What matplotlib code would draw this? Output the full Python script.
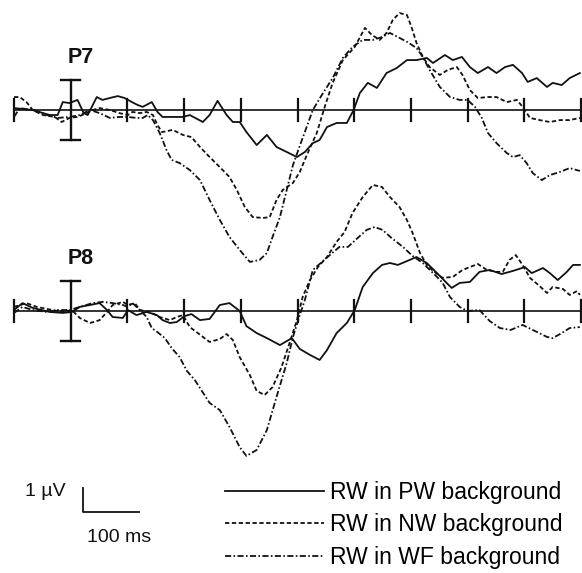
import matplotlib
matplotlib.use('Agg')
import matplotlib.pyplot as plt

plt.rcParams['font.family'] = ['Liberation Sans', 'DejaVu Sans']

# ---------------- data (time in ms, amplitude in microvolts) ----------------
p7_pw_t = [-100, -67, -37, -23, -14, -2, 12, 23, 30, 46, 56, 69, 83, 95, 108, 118, 127, 143,
           153, 162, 180, 198, 210, 233, 245, 259, 275, 286, 298, 310, 328, 346, 363, 381,
           399, 413, 427, 439, 452, 469, 487, 499, 510, 524, 540, 557, 575, 593, 610, 628,
           639, 660, 674, 690, 704, 718, 736, 751, 766, 780, 796, 806, 822, 840, 850, 866,
           880, 898]
p7_pw_v = [0.08, 0.0, -0.21, -0.21, 0.33, 0.29, 0.42, -0.13, -0.21, 0.54, 0.42, 0.5, 0.58,
           0.5, 0.33, 0.21, 0.13, 0.33, -0.08, -0.29, -0.29, -0.29, -0.21, -0.5, -0.21, 0.38,
           -0.21, -0.5, -0.5, -0.92, -1.46, -1.04, -1.54, -1.75, -1.96, -1.75, -1.38, -1.25,
           -0.71, -0.54, -0.54, 0.0, 0.71, 1.13, 0.92, 1.54, 1.75, 2.08, 2.08, 2.17, 1.96,
           2.29, 2.08, 2.21, 1.79, 1.54, 1.79, 1.54, 1.79, 1.88, 1.54, 1.17, 1.33, 0.96,
           1.13, 1.04, 1.33, 1.54]

p7_nw_t = [-100, -90, -78, -67, -49, -28, -16, -2, 12, 28, 39, 51, 69, 86, 101, 109, 122,
           134, 145, 153, 161, 180, 198, 213, 228, 245, 263, 280, 293, 307, 321, 339, 351,
           363, 374, 392, 404, 418, 434, 448, 462, 480, 501, 519, 531, 545, 557, 568, 580,
           593, 601, 610, 621, 633, 651, 665, 681, 691, 704, 718, 736, 751, 769, 787, 797,
           810, 827, 845, 863, 880, 898]
p7_nw_v = [0.54, 0.54, 0.33, 0.0, -0.21, -0.29, -0.5, -0.33, -0.29, -0.13, 0.0, 0.08, 0.0,
           -0.13, -0.21, -0.08, -0.13, -0.08, -0.21, -0.63, -0.92, -0.83, -1.04, -1.13,
           -1.54, -1.96, -2.38, -2.79, -3.33, -4.04, -4.46, -4.5, -4.46, -3.75, -3.33, -3.04,
           -2.58, -1.79, -0.96, 0.13, 1.13, 2.08, 2.63, 3.42, 3.13, 2.92, 3.21, 3.75, 4.04,
           3.96, 3.46, 2.79, 2.21, 1.79, 1.46, 1.67, 1.79, 1.46, 0.83, 0.5, 0.54, 0.54,
           0.33, 0.42, 0.13, -0.33, -0.42, -0.5, -0.42, -0.42, -0.33]

p7_wf_t = [-100, -90, -67, -42, -23, -2, 16, 34, 51, 69, 86, 101, 116, 127, 136, 145, 157,
           169, 178, 192, 210, 228, 245, 263, 280, 298, 316, 333, 346, 356, 369, 381, 392,
           409, 427, 443, 462, 480, 497, 515, 533, 549, 563, 577, 594, 610, 621, 633, 651,
           669, 686, 700, 713, 725, 736, 751, 769, 780, 792, 804, 815, 831, 845, 863, 880,
           898]
p7_wf_v = [-0.29, 0.08, 0.0, -0.21, -0.33, -0.29, -0.21, 0.0, -0.13, -0.33, -0.29, -0.29,
           -0.33, -0.33, -0.21, -0.42, -0.96, -1.67, -2.08, -2.21, -2.5, -2.92, -3.75, -4.58,
           -5.29, -5.83, -6.33, -6.25, -5.96, -5.29, -4.46, -3.33, -2.29, -1.17, 0.0, 0.63,
           1.33, 2.17, 2.63, 2.92, 2.92, 3.04, 3.21, 3.04, 2.83, 2.58, 2.21, 1.67, 0.96,
           0.54, 0.42, 0.42, 0.13, -0.33, -0.96, -1.38, -1.79, -1.96, -1.88, -2.21, -2.63,
           -2.92, -2.71, -2.58, -2.42, -2.54]

p8_pw_t = [-100, -85, -67, -37, -14, 2, 16, 34, 51, 64, 74, 92, 101, 116, 134, 152, 162,
           175, 187, 201, 213, 228, 245, 263, 280, 298, 310, 328, 346, 369, 390, 404, 422,
           439, 452, 469, 487, 501, 515, 533, 549, 563, 577, 598, 610, 628, 646, 663, 672,
           686, 704, 721, 739, 760, 780, 801, 813, 833, 845, 859, 875, 886, 898]
p8_pw_v = [0.04, 0.33, 0.13, -0.04, -0.08, -0.04, 0.17, 0.25, 0.33, 0.04, -0.25, -0.29,
           0.04, -0.17, -0.04, -0.17, -0.38, -0.5, -0.46, -0.21, -0.13, -0.38, -0.33, 0.25,
           0.33, 0.0, -0.63, -0.92, -1.13, -1.42, -1.13, -1.58, -1.83, -2.04, -1.63, -0.92,
           -0.5, 0.04, 1.0, 1.58, 1.92, 2.0, 1.92, 2.13, 2.25, 2.0, 1.58, 1.17, 0.96, 1.17,
           1.21, 1.63, 1.71, 1.54, 1.67, 1.83, 1.58, 1.79, 1.58, 1.29, 1.63, 1.92, 1.92]

p8_nw_t = [-100, -78, -60, -32, -14, 2, 16, 34, 51, 64, 74, 92, 101, 113, 122, 139, 157,
           175, 187, 198, 210, 222, 245, 263, 275, 286, 298, 316, 328, 342, 356, 372, 386,
           399, 409, 422, 436, 452, 469, 483, 497, 515, 533, 549, 563, 580, 593, 603, 616,
           628, 639, 656, 674, 691, 704, 718, 734, 751, 762, 774, 785, 797, 810, 827, 840,
           850, 868, 880, 893, 898]
p8_nw_v = [0.17, 0.33, 0.17, 0.04, -0.04, 0.04, -0.29, -0.5, -0.38, -0.04, 0.25, 0.38,
           0.25, 0.33, 0.04, -0.04, -0.25, -0.38, -0.25, -0.17, -0.67, -0.88, -1.29, -1.17,
           -0.96, -1.21, -1.92, -2.67, -3.33, -3.5, -3.17, -2.33, -1.33, -0.38, 0.58, 1.29,
           1.83, 2.25, 2.88, 3.29, 4.08, 4.75, 5.25, 5.17, 4.75, 4.33, 3.79, 3.25, 2.42,
           1.92, 1.67, 1.38, 1.42, 1.71, 1.83, 1.96, 1.71, 1.63, 1.63, 2.13, 2.33, 1.92,
           1.38, 1.04, 0.75, 1.0, 0.92, 0.67, 0.83, 0.67]

p8_wf_t = [-100, -85, -67, -42, -23, -2, 16, 39, 56, 74, 92, 101, 109, 122, 134, 143, 153,
           166, 178, 192, 205, 219, 228, 245, 263, 280, 298, 310, 328, 346, 363, 381, 392,
           404, 413, 427, 443, 457, 474, 489, 506, 522, 536, 550, 566, 586, 603, 621, 646,
           656, 669, 686, 700, 721, 739, 757, 776, 797, 815, 840, 850, 866, 880, 898]
p8_wf_v = [-0.08, 0.17, 0.04, -0.04, 0.04, 0.04, 0.17, 0.33, 0.38, 0.33, 0.25, 0.17, 0.33,
           0.04, -0.25, -0.71, -0.88, -1.13, -1.54, -1.92, -2.5, -2.88, -3.21, -3.83, -4.13,
           -4.83, -5.67, -6.04, -5.79, -4.96, -3.58, -2.17, -1.08, -0.17, 0.46, 1.71, 2.04,
           2.33, 2.67, 2.67, 3.04, 3.38, 3.5, 3.38, 3.04, 2.67, 2.29, 2.0, 1.42, 1.17, 0.58,
           0.17, 0.0, 0.04, -0.42, -0.71, -0.79, -0.58, -0.79, -1.08, -1.13, -0.92, -0.71,
           -0.67]

channels = ['P7', 'P8']
conditions = ['RW in PW background', 'RW in NW background', 'RW in WF background']
tick_times = [-100, 100, 200, 300, 400, 500, 600, 700, 800, 900]
bar_uv = 1.0      # calibration bar amplitude
bar_ms = 100      # calibration bar duration
errbar_uv = 1.25  # half height of the vertical marker at stimulus onset

series = {
    'P7': [(p7_pw_t, p7_pw_v), (p7_nw_t, p7_nw_v), (p7_wf_t, p7_wf_v)],
    'P8': [(p8_pw_t, p8_pw_v), (p8_nw_t, p8_nw_v), (p8_wf_t, p8_wf_v)],
}

# ---------------- layout ----------------
W, H = 582, 573
fig = plt.figure(figsize=(W / 100, H / 100), dpi=100)
PX_PER_UV = 24.0
X0, X1 = 14, 581  # pixel columns of -100 ms and 900 ms


def make_axes(base_px, top_px, bottom_px):
    ax = fig.add_axes([X0 / W, 1 - bottom_px / H, (X1 - X0) / W, (bottom_px - top_px) / H])
    ax.set_xlim(-100, 900)
    ax.set_ylim((base_px - bottom_px) / PX_PER_UV, (base_px - top_px) / PX_PER_UV)
    ax.axis('off')
    ax.patch.set_alpha(0)
    return ax


ax7 = make_axes(110, 0, 290)
ax8 = make_axes(311, 150, 573)

styles = [dict(linestyle='-'),
          dict(linestyle=(0, (2.4, 1.4))),
          dict(linestyle=(0, (3.4, 1.3, 0.9, 1.3)))]
col = '#111111'
lw = 1.3

for ax, ch in [(ax7, 'P7'), (ax8, 'P8')]:
    # baseline and ticks
    ax.plot([-100, 900], [0, 0], color=col, lw=1.2, clip_on=False)
    for tt in tick_times:
        ax.plot([tt, tt], [-0.46, 0.46], color=col, lw=1.6, clip_on=False)
    # onset marker
    ax.plot([0, 0], [-errbar_uv, errbar_uv], color=col, lw=1.7, clip_on=False)
    for yy in (-errbar_uv, errbar_uv):
        ax.plot([-17, 17], [yy, yy], color=col, lw=1.7, clip_on=False)
    # waveforms
    handles = []
    for (t, v), st, lab in zip(series[ch], styles, conditions):
        h, = ax.plot(t, v, color=col, lw=lw, clip_on=False, label=lab, **st)
        handles.append(h)
    ax.text(-5, 2.2, ch, fontsize=15.5, fontweight='bold', ha='left', va='center', color=col)

# calibration bar (in P8 data units)
bx, by = 21, -8.375
ax8.plot([bx, bx, bx + bar_ms], [by + bar_uv, by, by], color=col, lw=1.3, clip_on=False)
ax8.text(bx - 30, by + 0.85, '1 µV', fontsize=14, ha='right', va='center', color=col)
ax8.text(bx + 64, by - 1.05, '100 ms', fontsize=14, ha='center', va='center', color=col)

# legend
fig.legend(handles, conditions, loc='center left',
           bbox_to_anchor=(225 / W, 1 - 525 / H), frameon=False, fontsize=16.5,
           handlelength=4.3, handletextpad=0.3, labelspacing=0.42, borderaxespad=0,
           borderpad=0)

fig.savefig('out.png', dpi=100)
